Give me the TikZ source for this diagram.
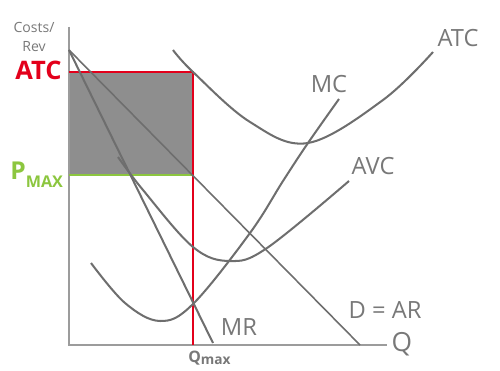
\documentclass[tikz,border=0pt]{standalone}
\usepackage{fontspec}
\setmainfont{Open Sans}
\usepackage{tikz}
\usetikzlibrary{positioning}
\definecolor{courbe}{HTML}{6E6E6E}
\definecolor{axe}{HTML}{9C9C9C}
\definecolor{rouge}{HTML}{E3001B}
\definecolor{vertp}{HTML}{8CC63F}
\definecolor{zone}{HTML}{8E8E8E}
\definecolor{texte}{HTML}{787878}

\begin{document}
\begin{tikzpicture}[x=0.02cm, y=-0.02cm,
    curve/.style={courbe, line width=1.15pt},
    lab/.style={texte, inner sep=0pt, font=\fontsize{13.5}{14}\selectfont}]
  \useasboundingbox (0,0) rectangle (500,371);
  % points of the picture
  \coordinate (O) at (69,345);
  \coordinate (ytop) at (69,27);
  \coordinate (xend) at (387,345);
  \coordinate (atcy) at (69,72);
  \coordinate (corner) at (193,72);
  \coordinate (pmaxy) at (69,175);
  \coordinate (pq) at (193,175);
  \coordinate (qmax) at (193,345);
  \fill[zone] (atcy) rectangle (pq);
  \draw[axe, line width=1.15pt] (ytop) -- (O) -- (xend);
  \draw[vertp, line width=1.15pt] (pmaxy) -- (pq);
  \draw[rouge, line width=1.15pt] (atcy) -- (corner) -- (qmax);
  % demand and marginal revenue
  \draw[courbe, line width=0.9pt] (69,50) -- (360,345);
  \draw[curve] (69,50) -- (213,343);
  % cost curves
  \draw[curve] plot[smooth, tension=0.6] coordinates {(173,50) (193,72) (250,122) (308,143) (383,100) (433,52)};
  \draw[curve] plot[smooth, tension=0.6] coordinates {(91,263) (125,303) (160,321) (193,304) (250,233) (283,181) (308,143) (339,99)};
  \draw[curve] plot[smooth, tension=0.6] coordinates {(118,157) (143,190) (193,247) (230,261) (267,248) (349,181)};
  % labels
  \node[lab] (atclab) at (458,38) {ATC};
  \node[lab] (mclab) at (329,84) {MC};
  \node[lab] (avclab) at (373,166) {AVC};
  \node[lab] (mrlab) at (239,327) {MR};
  \node[lab] (dlab) at (385,310) {D = AR};
  \node[lab, font=\fontsize{15}{16}\selectfont] (qlab) at (402,344) {Q};
  \node[texte, inner sep=0pt, align=center, font=\fontsize{8}{11}\selectfont] (ylab) at (34,37) {Costs/\\Rev};
  \node[rouge, inner sep=0pt, anchor=base east, font=\fontsize{14.5}{15}\selectfont\bfseries] (atcred) at (62,80) {ATC};
  \node[vertp, inner sep=0pt, anchor=base west, font=\fontsize{14}{15}\selectfont\bfseries] (pmax) at (10,180)
    {P\raisebox{-4.5pt}{\fontsize{9.2}{10}\selectfont MAX}};
  \node[texte, inner sep=0pt, anchor=base west, font=\fontsize{9}{10}\selectfont\bfseries] (qmaxlab) at (188,362)
    {Q\raisebox{-1.7pt}{\fontsize{7.8}{8}\selectfont max}};
\end{tikzpicture}
\end{document}
